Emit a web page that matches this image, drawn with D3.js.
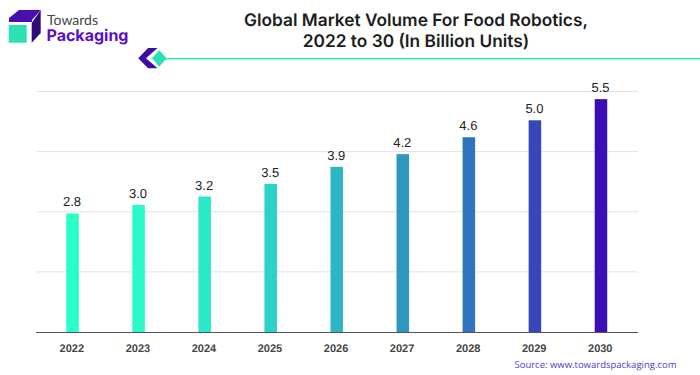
<!DOCTYPE html>
<html><head><meta charset="utf-8">
<style>html,body{margin:0;padding:0;background:#fff}svg{display:block;text-rendering:geometricPrecision}</style>
<script src="https://cdnjs.cloudflare.com/ajax/libs/d3/7.8.5/d3.min.js"></script>
</head><body><svg id="c" width="700" height="375"></svg>
<script>
const years=["2022","2023","2024","2025","2026","2027","2028","2029","2030"];
const values=[2.8,3.0,3.2,3.5,3.9,4.2,4.6,5.0,5.5];
const valueLabels=["2.8","3.0","3.2","3.5","3.9","4.2","4.6","5.0","5.5"];
const barColors=["#2AFFC8","#2BF9C8","#2BE8C8","#2CD2C6","#2FB6C4","#2F96BF","#2F74BE","#3747B8","#3A10B4"];
const gridValues=[1.42,2.84,4.26,5.68];
const titleLines=["Global Market Volume For Food Robotics,","2022 to 30 (In Billion Units)"];
const svg=d3.select("#c");
const x=d3.scaleBand().domain(years).range([39.5,634]).paddingInner(0.81).paddingOuter(0.405);
const y=d3.scaleLinear().domain([0,5.68]).range([332,91.5]);
svg.append("g").selectAll("line").data(gridValues).join("line")
 .attr("x1",36).attr("x2",638).attr("y1",d=>y(d)).attr("y2",d=>y(d)).attr("stroke","#e2e2e2").attr("stroke-width",1);
svg.append("g").selectAll("rect").data(values).join("rect")
 .attr("x",(d,i)=>x(years[i])).attr("width",x.bandwidth()).attr("y",d=>y(d)).attr("height",d=>y(0)-y(d)).attr("fill",(d,i)=>barColors[i]);
svg.append("line").attr("x1",36).attr("x2",638).attr("y1",332.5).attr("y2",332.5).attr("stroke","#555").attr("stroke-width",1);
svg.append("g").selectAll("text").data(values).join("text")
 .attr("x",(d,i)=>x(years[i])+x.bandwidth()/2-0.5).attr("y",d=>y(d)-7).attr("text-anchor","middle")
 .attr("font-family","Liberation Sans").attr("font-size",13).attr("fill","#222").text((d,i)=>valueLabels[i]);
svg.append("g").selectAll("text").data(years).join("text")
 .attr("x",d=>x(d)+x.bandwidth()/2-0.7).attr("y",352).attr("text-anchor","middle")
 .attr("font-family","Liberation Sans").attr("font-weight",700).attr("font-size",11).attr("fill","#444").text(d=>d);
svg.append("g").selectAll("text").data(titleLines).join("text")
 .attr("x",416).attr("y",(d,i)=>26+i*21).attr("text-anchor","middle")
 .attr("font-family","Inter").attr("font-weight",600).attr("font-size",17.3).attr("fill","#1c1c1c").text(d=>d);
svg.append("text").attr("x",676.5).attr("y",367.5).attr("text-anchor","end").attr("font-family","Open Sans").attr("font-weight",500)
 .attr("font-size",9.5).attr("fill","#5040cc").text("Source: www.towardspackaging.com");
// logo
const logo=svg.append("g");
logo.append("path").attr("d","M9 18L19 10H40.7L32 20V22H9Z").attr("fill","#4A0DB0");
logo.append("path").attr("d","M40.7 10V33L31.7 42.7V23Z").attr("fill","#2E0A78");
logo.append("rect").attr("x",8.7).attr("y",25).attr("width",18).attr("height",17.7).attr("fill","#2BE0B4");
logo.append("text").attr("x",47).attr("y",24.5).attr("font-family","Lato").attr("font-size",14).attr("fill","#444").text("Towards");
logo.append("text").attr("x",46.5).attr("y",41).attr("font-family","Inter").attr("font-weight",700).attr("font-size",16).attr("fill","#5A10C0").text("Packaging");
// divider
svg.append("line").attr("x1",165).attr("x2",700).attr("y1",58.7).attr("y2",58.7).attr("stroke","#2BE8B8").attr("stroke-width",1.5);
svg.append("path").attr("d","M138.3 58.3L148 48H157.5L146 58.3L157.5 68.3H148Z").attr("fill","#3D0DA0");
svg.append("path").attr("d","M159.3 50L166.7 58.3L159.3 66.7L152 58.3Z").attr("fill","#2BE0B8");
</script></body></html>
